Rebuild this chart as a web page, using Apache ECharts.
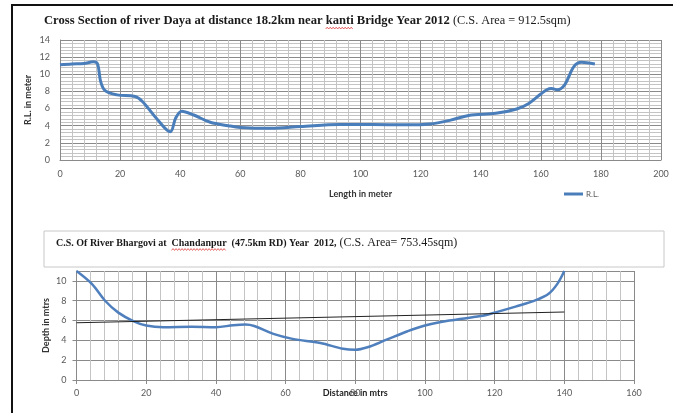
<!DOCTYPE html>
<html><head><meta charset="utf-8">
<script src="https://cdn.jsdelivr.net/npm/echarts@6/dist/echarts.min.js"></script>
<style>html,body{margin:0;padding:0;background:#fff}#c{width:673px;height:413px}</style>
</head><body><div id="c"></div>
<script>
// Top chart: Cross section of river Daya (Length in meter vs R.L.)
const topX = [0, 4, 8, 11, 12.5, 13.5, 15, 19, 25, 27.5, 32, 36.7, 38.5, 40.5, 44.5, 50, 56, 60, 70, 80, 93, 104, 115, 123, 130, 136, 145, 152, 156, 160, 162, 163.5, 165.5, 168, 171, 173.5, 178];
const topY = [11.1, 11.2, 11.25, 11.45, 11.2, 9.2, 8.1, 7.6, 7.4, 6.8, 4.9, 3.3, 4.9, 5.7, 5.25, 4.4, 4.0, 3.8, 3.7, 3.9, 4.15, 4.15, 4.1, 4.2, 4.65, 5.2, 5.45, 5.95, 6.6, 7.7, 8.2, 8.35, 8.2, 8.8, 10.9, 11.4, 11.2];
// Bottom chart: C.S. of river Bhargovi (Distance in mtrs vs Depth)
const botX = [0, 4.4, 8.2, 12, 16.3, 20, 25, 33, 40, 45, 48.5, 51, 56.5, 62, 70, 76.5, 80, 83.5, 89, 95, 100, 107, 116, 120, 126, 132, 135.5, 138, 140];
const botY = [11, 9.7, 8.0, 6.8, 5.95, 5.5, 5.33, 5.37, 5.33, 5.53, 5.6, 5.45, 4.65, 4.15, 3.73, 3.15, 3.05, 3.3, 4.07, 4.92, 5.5, 6.0, 6.45, 6.8, 7.4, 8.08, 8.7, 9.7, 11.0];
const trendX = [0, 140];
const trendY = [5.78, 6.86];
const topXTicks = {min: 0, max: 200, interval: 20};
const topYTicks = {min: 0, max: 14, interval: 2};
const botXTicks = {min: 0, max: 160, interval: 20};
const botYTicks = {min: 0, max: 11, interval: 2};

const pair = (xs, ys) => xs.map((x, i) => [x, ys[i]]);
const lab = {color: '#595959', fontSize: 9, fontFamily: 'Lato, sans-serif'};
const major = {show: true, lineStyle: {color: '#8a8a8a', width: 1}};
const minor = {show: true, lineStyle: {color: '#c4c4c4', width: 1}};
const serif = 'Liberation Serif';

// title texts
const t1b = 'Cross Section of river Daya at distance 18.2km near kanti Bridge Year 2012';
const t1n = ' (C.S. Area = 912.5sqm)';
const t2b = 'C.S. Of River Bhargovi at  Chandanpur  (47.5km RD) Year  2012,';
const t2n = ' (C.S. Area= 753.45sqm)';
const T1 = {left: 44, top: 14, size: 12.6};
const T2 = {left: 56, top: 237, size: 10};

// spell-check squiggle decoration (text styling, not data)
const mctx = document.createElement('canvas').getContext('2d');
function squiggle(prefix, word, size, left, y) {
  mctx.font = 'bold ' + size + 'px "' + serif + '"';
  const x0 = left + mctx.measureText(prefix).width;
  const w = mctx.measureText(word).width;
  const pts = [];
  for (let i = 0, x = x0; x <= x0 + w; i++, x += 1.5) pts.push([x, y + (i % 2 ? -0.9 : 0.9)]);
  return {type: 'polyline', shape: {points: pts}, style: {stroke: '#e03a3a', lineWidth: 0.8, fill: null}, z: 10};
}

const chart = echarts.init(document.getElementById('c'), null, {renderer: 'canvas'});
chart.setOption({
  animation: false,
  title: [
    {left: T1.left, top: T1.top, padding: 0, text: '{b|' + t1b + '}{n|' + t1n + '}',
     textStyle: {fontWeight: 'normal', rich: {
       b: {fontFamily: serif, fontWeight: 'bold', fontSize: T1.size, color: '#1a1a1a'},
       n: {fontFamily: serif, fontWeight: 'normal', fontSize: 12.3, color: '#1a1a1a'}}}},
    {left: T2.left, top: T2.top, padding: 0, text: '{b|' + t2b + '}{n|' + t2n + '}',
     textStyle: {fontWeight: 'normal', rich: {
       b: {fontFamily: serif, fontWeight: 'bold', fontSize: T2.size, color: '#1a1a1a'},
       n: {fontFamily: serif, fontWeight: 'normal', fontSize: 12, color: '#1a1a1a'}}}}
  ],
  legend: {data: [{name: 'R.L.'}], left: 559, top: 185, itemWidth: 19, itemHeight: 3, itemGap: 2,
    icon: 'rect', textStyle: {color: '#595959', fontSize: 8, fontFamily: 'Lato, sans-serif', padding: [0,0,0,-2]}},
  graphic: [
    {type: 'polyline', shape: {points: [[12, 420], [12, 5], [680, 5]]}, style: {stroke: '#111', lineWidth: 2, fill: null}},
    {type: 'rect', shape: {x: 44, y: 231, width: 620, height: 36}, style: {stroke: '#c8c8c8', lineWidth: 1, fill: '#fff'}, z: -1},
    squiggle('Cross Section of river Daya at distance 18.2km near ', 'kanti', T1.size, T1.left, T1.top + T1.size + 1.5),
    squiggle('C.S. Of River Bhargovi at  ', 'Chandanpur', T2.size, T2.left, T2.top + 12.5)
  ],
  grid: [
    {left: 60, right: 12, top: 40, bottom: 253},
    {left: 76.5, right: 39, top: 271, bottom: 33}
  ],
  xAxis: [
    {type: 'value', gridIndex: 0, ...topXTicks, name: 'Length in meter', nameLocation: 'middle', nameGap: 30, nameMoveOverlap: false,
     nameTextStyle: {color: '#333', fontSize: 9, fontWeight: 'bold', fontFamily: 'Lato, sans-serif'},
     axisLine: {show: true, lineStyle: {color: '#8a8a8a'}}, axisTick: {show: false},
     axisLabel: {...lab, margin: 10}, splitLine: major,
     minorTick: {show: false, splitNumber: 5}, minorSplitLine: minor},
    {type: 'value', gridIndex: 1, ...botXTicks, name: 'Distance in mtrs', nameLocation: 'middle', nameGap: 9, nameMoveOverlap: false,
     nameTextStyle: {color: '#222', fontSize: 9, fontWeight: 'bold', fontFamily: 'Lato, sans-serif'},
     axisLine: {show: true, lineStyle: {color: '#8a8a8a'}}, axisTick: {show: true, length: 4, lineStyle: {color: '#8a8a8a'}},
     axisLabel: {...lab, margin: 9}, splitLine: major,
     minorTick: {show: false, splitNumber: 5}, minorSplitLine: minor}
  ],
  yAxis: [
    {type: 'value', gridIndex: 0, ...topYTicks, name: 'R.L. in meter', nameLocation: 'middle', nameGap: 27, nameMoveOverlap: false,
     nameTextStyle: {color: '#333', fontSize: 9, fontWeight: 'bold', fontFamily: 'Lato, sans-serif'},
     axisLine: {show: true, lineStyle: {color: '#8a8a8a'}}, axisTick: {show: false},
     axisLabel: {...lab, margin: 10}, splitLine: major,
     minorTick: {show: false, splitNumber: 5}, minorSplitLine: minor},
    {type: 'value', gridIndex: 1, ...botYTicks, name: 'Depth in mtrs', nameLocation: 'middle', nameGap: 26, nameMoveOverlap: false,
     nameTextStyle: {color: '#333', fontSize: 9, fontWeight: 'bold', fontFamily: 'Lato, sans-serif'},
     axisLine: {show: true, lineStyle: {color: '#8a8a8a'}}, axisTick: {show: true, length: 4, lineStyle: {color: '#8a8a8a'}},
     axisLabel: {...lab, margin: 10, showMaxLabel: false}, splitLine: major}
  ],
  series: [
    {name: 'R.L.', type: 'line', xAxisIndex: 0, yAxisIndex: 0, data: pair(topX, topY), smooth: 0.35,
     showSymbol: false, symbol: 'none', lineStyle: {color: '#4a7ebb', width: 3}, itemStyle: {color: '#4a7ebb'}},
    {name: 'Depth', type: 'line', xAxisIndex: 1, yAxisIndex: 1, data: pair(botX, botY), smooth: 0.35,
     showSymbol: false, symbol: 'none', lineStyle: {color: '#4f7fbc', width: 2.5}},
    {name: 'Linear', type: 'line', xAxisIndex: 1, yAxisIndex: 1, data: pair(trendX, trendY),
     showSymbol: false, symbol: 'none', lineStyle: {color: '#222', width: 1.2}}
  ]
});
</script></body></html>
